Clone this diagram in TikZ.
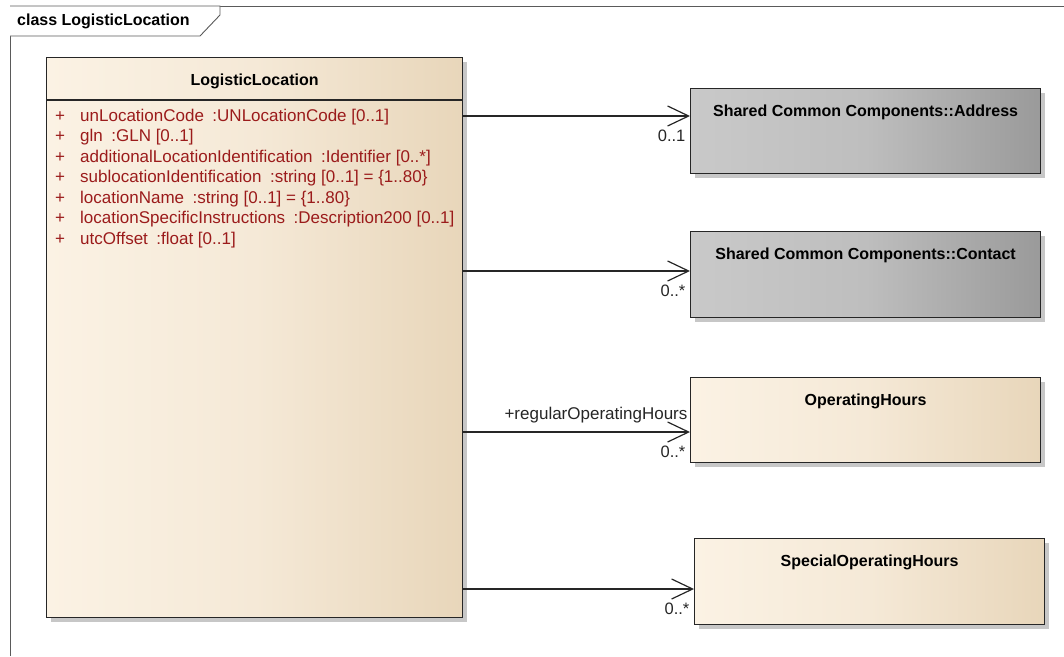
\documentclass[tikz,border=0pt]{standalone}
\usepackage{fontspec}
\setmainfont{Liberation Sans}
\usepackage{tikz}
\usetikzlibrary{arrows.meta, positioning, shadows}
\definecolor{creamlight}{HTML}{FBF2E4}
\definecolor{creammid}{HTML}{F5E9D7}
\definecolor{creamdark}{HTML}{E8D6BA}
\definecolor{greylight}{HTML}{C9C9C9}
\definecolor{greymid}{HTML}{BEBEBE}
\definecolor{greydark}{HTML}{9A9A9A}
\definecolor{attrred}{HTML}{9B1B1B}
\definecolor{framegrey}{HTML}{5A5A5A}
\tikzstyle{frame}=[draw=framegrey, line width=0.9pt]
\tikzstyle{boxline}=[line width=1.2pt, color=black!85]
\tikzstyle{classbox}=[draw=black!85, line width=1.2pt, anchor=north west, inner sep=0pt,
  left color=creamlight, right color=creamdark, middle color=creammid,
  drop shadow={shadow xshift=4pt, shadow yshift=-4pt, fill=black!22, opacity=1}]
\tikzstyle{refbox}=[classbox, left color=greylight, right color=greydark, middle color=greymid]
\tikzstyle{titletext}=[font=\bfseries\fontsize{16}{19}\selectfont, inner sep=0pt, text height=12pt, text depth=3.5pt]
\tikzstyle{attrtext}=[font=\fontsize{17}{19}\selectfont, text=attrred, anchor=west, inner sep=0pt, text height=12pt, text depth=3.5pt]
\tikzstyle{mult}=[font=\fontsize{16.5}{19}\selectfont, anchor=north east, inner sep=0pt, xshift=-4pt, yshift=-13pt]
\tikzstyle{role}=[font=\fontsize{17}{19}\selectfont, anchor=base east, inner sep=0pt, xshift=-2pt, yshift=13pt]
\tikzstyle{assoc}=[-{Straight Barb[length=21pt, width=20pt]}, line width=1.2pt, color=black!85]

\begin{document}
\begin{tikzpicture}[x=1pt, y=-1pt]
  \useasboundingbox (0,0) rectangle (1064,656);
  \draw[frame] (10,656) -- (10,6) -- (1064,6);
  \draw[frame, fill=white] (10,6) -- (220,6) -- (220,15) -- (200,36) -- (10,36);
  \node[titletext, anchor=west] (frametitle) at (17,21) {class LogisticLocation};

  \node[classbox, minimum width=416pt, minimum height=560pt] (logloc) at (46,57) {};
  \draw[boxline] (logloc.west |- 0,100) -- (logloc.east |- 0,100);
  \node[titletext, below=16pt of logloc.north] (loglocname) {LogisticLocation};
  \foreach \attr [count=\i] in {{unLocationCode\enspace:UNLocationCode [0..1]},
      {gln\enspace:GLN [0..1]},
      {additionalLocationIdentification\enspace:Identifier [0..*]},
      {sublocationIdentification\enspace:string [0..1] = \{1..80\}},
      {locationName\enspace:string [0..1] = \{1..80\}},
      {locationSpecificInstructions\enspace:Description200 [0..1]},
      {utcOffset\enspace:float [0..1]}}{
    \node[attrtext] (plus\i) at (55,{96.5+20.5*\i}) {+};
    \node[attrtext] (attr\i) at (80,{96.5+20.5*\i}) {\attr};
  }

  \node[refbox, minimum width=350pt, minimum height=85pt] (address) at (690,88) {};
  \node[titletext, below=16pt of address.north] (addressname) {Shared Common Components::Address};
  \node[refbox, minimum width=350pt, minimum height=86pt] (contact) at (690,231) {};
  \node[titletext, below=16pt of contact.north] (contactname) {Shared Common Components::Contact};
  \node[classbox, minimum width=350pt, minimum height=85pt] (ophours) at (690,377) {};
  \node[titletext, below=16pt of ophours.north] (ophoursname) {OperatingHours};
  \node[classbox, minimum width=350pt, minimum height=86pt] (specialhours) at (694,538) {};
  \node[titletext, below=16pt of specialhours.north] (specialhoursname) {SpecialOperatingHours};

  \draw[assoc] (logloc.east |- 0,116) -- (address.west |- 0,116) node[mult] {0..1};
  \draw[assoc] (logloc.east |- 0,271) -- (contact.west |- 0,271) node[mult] {0..*};
  \draw[assoc] (logloc.east |- 0,432) -- (ophours.west |- 0,432) node[mult] {0..*}
    node[role] {+regularOperatingHours};
  \draw[assoc] (logloc.east |- 0,589) -- (specialhours.west |- 0,589) node[mult] {0..*};
\end{tikzpicture}
\end{document}
